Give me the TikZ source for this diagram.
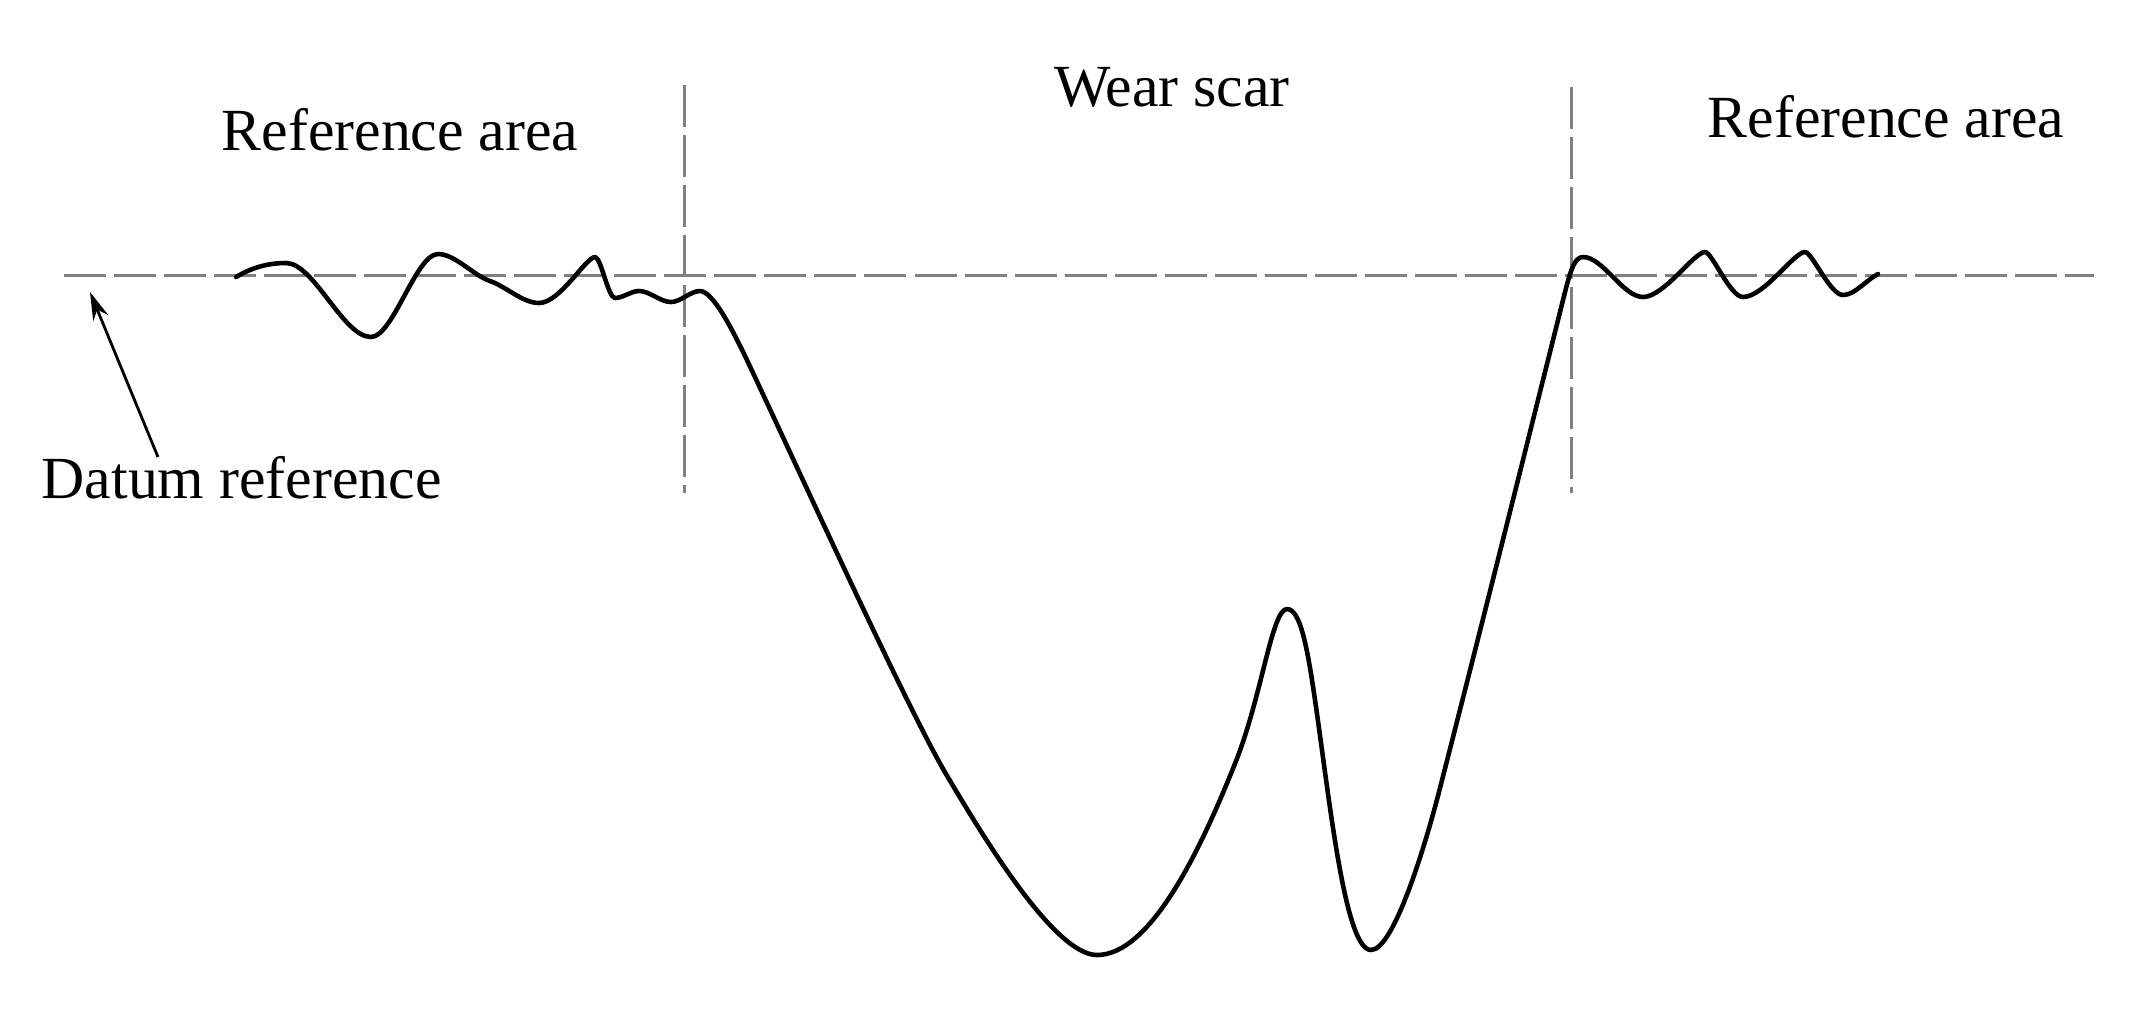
\documentclass[tikz,border=0pt]{standalone}
\usepackage{fontspec}
\setmainfont{Liberation Serif}
\usetikzlibrary{arrows.meta}
\begin{document}
\begin{tikzpicture}[x=0.01cm,y=-0.01cm,
  guide/.style={draw=black!50,line width=0.85pt,dash pattern=on 0.42cm off 0.08cm},
  profile/.style={draw=black,line width=1.3pt,line cap=round,line join=round},
  lbl/.style={font=\fontsize{17pt}{20pt}\selectfont,inner sep=0pt}]
\useasboundingbox (0,0) rectangle (2130,1011);
% guide lines
\coordinate (dl) at (64,275);
\coordinate (dr) at (2094,275);
\coordinate (vlt) at (684,85);
\coordinate (vlb) at (684,493);
\coordinate (vrt) at (1571,87);
\coordinate (vrb) at (1571,493);
\draw[guide] (dl) -- (dr);
\draw[guide] (vlt) -- (vlb);
\draw[guide] (vrt) -- (vrb);
% profile
\draw[profile] (236,277)
 .. controls (252.7,267) and (269.3,263) .. (286,263)
 .. controls (314,263) and (343,337) .. (371,337)
 .. controls (393,337) and (416,254) .. (438,254)
 .. controls (455,254) and (472.7,275) .. (490,281)
 .. controls (506.3,286.7) and (522.7,303) .. (539,303)
 .. controls (560,303) and (586,257) .. (595,257)
 .. controls (601,257) and (608,298) .. (615,298)
 .. controls (623,298) and (631,291) .. (639,291)
 .. controls (649.7,291) and (660.3,302) .. (671,302)
 .. controls (680.7,302) and (690.3,291) .. (700,291)
 % wear scar
 .. controls (713,291) and (733,331) .. (746,358)
 .. controls (796,464) and (905,704) .. (946,774)
 .. controls (985,840) and (1055,955) .. (1097,955)
 .. controls (1150,955) and (1200,852) .. (1236,761)
 .. controls (1262,695) and (1272,609) .. (1287,609)
 .. controls (1300,609) and (1307,645) .. (1315,700)
 .. controls (1330,803) and (1345,950) .. (1371,950)
 .. controls (1394,950) and (1426,843) .. (1440,788)
 .. controls (1481,628) and (1522,464) .. (1563,300)
 .. controls (1570,272) and (1574,257) .. (1583,257)
 % right reference area
 .. controls (1603,257) and (1623,297) .. (1643,297)
 .. controls (1664,297) and (1694,252) .. (1705,252)
 .. controls (1712,252) and (1730,297) .. (1743,297)
 .. controls (1764,297) and (1794,252) .. (1805,252)
 .. controls (1812,252) and (1830,295) .. (1843,295)
 .. controls (1855,295) and (1866.3,279.8) .. (1878,274);
% labels
\node[lbl,anchor=west] (refl) at (221,130) {Reference area};
\node[lbl] (wear) at (1172,87) {Wear scar};
\node[lbl,anchor=west] (refr) at (1707,117) {Reference area};
\node[lbl,anchor=west] (datum) at (41,478) {Datum reference};
\coordinate (dtip) at (90,292);
\draw[line width=0.8pt,-{Stealth[length=0.28cm,width=0.16cm]}] (158,457) -- (dtip);
\end{tikzpicture}
\end{document}
